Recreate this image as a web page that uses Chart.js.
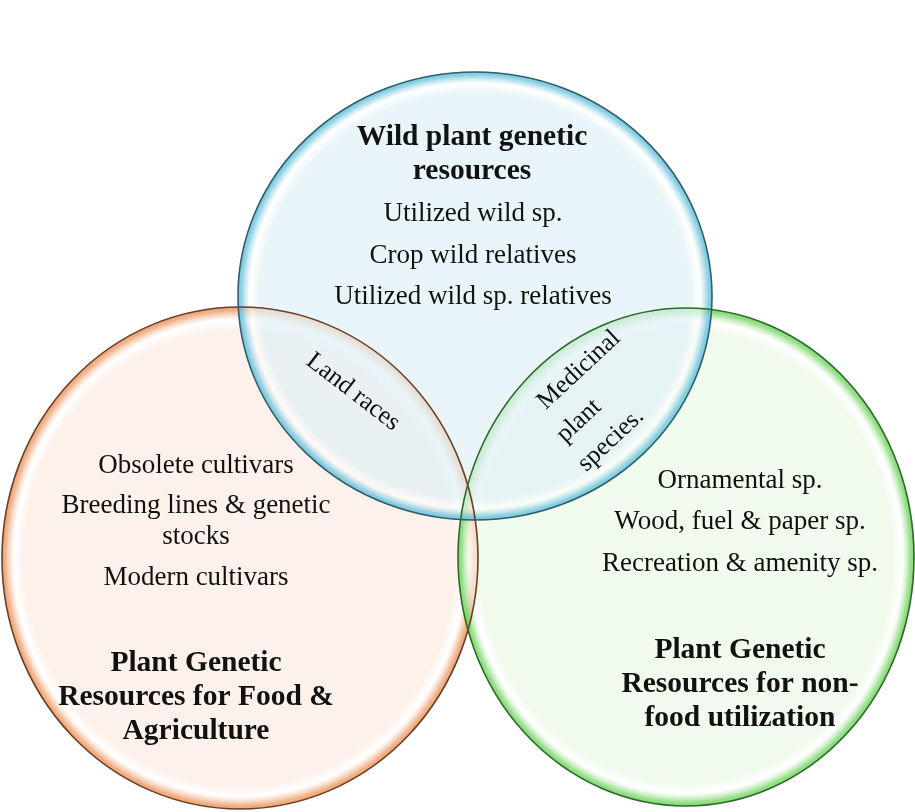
<!DOCTYPE html>
<html>
<head>
<meta charset="utf-8">
<script src="https://cdn.jsdelivr.net/npm/chart.js@4"></script>
<style>
  html, body { margin: 0; padding: 0; background: #ffffff; }
  #venn { display: block; }
</style>
</head>
<body>
<canvas id="venn" width="915" height="812"></canvas>
<script>
// Venn - tres conjuntos de recursos fitogenéticos
const setNames = ["Wild plant genetic resources", "Plant Genetic Resources for Food & Agriculture", "Plant Genetic Resources for non-food utilization"];
const centerX = [475, 240, 686];
const centerY = [296, 558, 557];
const radiusX = [237, 238, 228];
const radiusY = [224, 251, 249];

const titleLines = [
  ["Wild plant genetic", "resources"],
  ["Plant Genetic", "Resources for Food &", "Agriculture"],
  ["Plant Genetic", "Resources for non-", "food utilization"],
];
const itemLines = [
  ["Utilized wild sp.", "Crop wild relatives", "Utilized wild sp. relatives"],
  ["Obsolete cultivars", "Breeding lines & genetic", "stocks", "Modern cultivars"],
  ["Ornamental sp.", "Wood, fuel & paper sp.", "Recreation & amenity sp."],
];
const overlapLines = [
  ["Land races"],
  ["Medicinal", "plant", "species."],
];

// estilo y posiciones de texto (coordenadas de la escala)
const styles = [
  { base: "226,241,246", rim: "110,195,220", stroke: "#2f5f6e" },
  { base: "252,236,228", rim: "236,156,104", stroke: "#6b4026" },
  { base: "236,249,232", rim: "120,214,104", stroke: "#2c6a2a" },
];
const titlePos = [
  { x: 472, y: 137, dy: 34 },
  { x: 196, y: 663, dy: 34 },
  { x: 740, y: 650, dy: 34 },
];
const itemPos = [
  { x: 473, ys: [214, 256, 297] },
  { x: 196, ys: [466, 506, 537, 578] },
  { x: 740, ys: [481, 522, 564] },
];
const overlapPos = [
  [{ x: 353, y: 392, a: 37.6 }],
  [{ x: 579, y: 370, a: -43 }, { x: 579, y: 421, a: -43 }, { x: 611, y: 440, a: -43 }],
];

function ellipseOf(chart, i) {
  const xs = chart.scales.x;
  const ys = chart.scales.y;
  const cx = xs.getPixelForValue(centerX[i]);
  const cy = ys.getPixelForValue(centerY[i]);
  const rx = Math.abs(xs.getPixelForValue(centerX[i] + radiusX[i]) - cx);
  const ry = Math.abs(ys.getPixelForValue(centerY[i] + radiusY[i]) - cy);
  return { cx, cy, rx, ry };
}

const vennPlugin = {
  id: "venn",
  beforeDatasetsDraw(chart) {
    const ctx = chart.ctx;
    const order = [1, 2, 0];
    // rellenos
    order.forEach((i) => {
      const e = ellipseOf(chart, i);
      const s = styles[i];
      ctx.save();
      ctx.translate(e.cx, e.cy);
      ctx.scale(1, e.ry / e.rx);
      const g = ctx.createRadialGradient(0, 0, 0, 0, 0, e.rx);
      g.addColorStop(0, `rgba(${s.base},0.75)`);
      g.addColorStop(0.91, `rgba(${s.base},0.75)`);
      g.addColorStop(0.95, `rgba(255,255,255,0.55)`);
      g.addColorStop(0.985, `rgba(${s.rim},0.75)`);
      g.addColorStop(1, `rgba(${s.rim},0.95)`);
      ctx.beginPath();
      ctx.arc(0, 0, e.rx, 0, Math.PI * 2);
      ctx.fillStyle = g;
      ctx.fill();
      ctx.restore();
    });
    // bordes
    order.forEach((i) => {
      const e = ellipseOf(chart, i);
      ctx.save();
      ctx.beginPath();
      ctx.ellipse(e.cx, e.cy, e.rx, e.ry, 0, 0, Math.PI * 2);
      ctx.lineWidth = 1.6;
      ctx.strokeStyle = styles[i].stroke;
      ctx.stroke();
      ctx.restore();
    });
  },
  afterDatasetsDraw(chart) {
    const ctx = chart.ctx;
    const xs = chart.scales.x;
    const ys = chart.scales.y;
    ctx.save();
    ctx.fillStyle = "#111111";
    ctx.textAlign = "center";
    ctx.textBaseline = "middle";

    ctx.font = "bold 29.5px 'Liberation Serif', 'Times New Roman', serif";
    titleLines.forEach((lines, i) => {
      lines.forEach((t, j) => {
        ctx.fillText(t, xs.getPixelForValue(titlePos[i].x), ys.getPixelForValue(titlePos[i].y + j * titlePos[i].dy));
      });
    });

    ctx.font = "27px 'Liberation Serif', 'Times New Roman', serif";
    itemLines.forEach((lines, i) => {
      lines.forEach((t, j) => {
        ctx.fillText(t, xs.getPixelForValue(itemPos[i].x), ys.getPixelForValue(itemPos[i].ys[j]));
      });
    });

    ctx.font = "25.5px 'Liberation Serif', 'Times New Roman', serif";
    overlapLines.forEach((lines, i) => {
      lines.forEach((t, j) => {
        const p = overlapPos[i][j];
        ctx.save();
        ctx.translate(xs.getPixelForValue(p.x), ys.getPixelForValue(p.y));
        ctx.rotate((p.a * Math.PI) / 180);
        ctx.fillText(t, 0, 0);
        ctx.restore();
      });
    });
    ctx.restore();
  },
};

new Chart(document.getElementById("venn").getContext("2d"), {
  type: "scatter",
  data: {
    datasets: setNames.map((name, i) => ({
      label: name,
      data: [{ x: centerX[i], y: centerY[i] }],
      pointRadius: 0,
      pointHoverRadius: 0,
    })),
  },
  options: {
    responsive: false,
    animation: false,
    layout: { padding: 0 },
    plugins: { legend: { display: false }, tooltip: { enabled: false } },
    scales: {
      x: { type: "linear", min: 0, max: 915, display: false },
      y: { type: "linear", min: 0, max: 812, reverse: true, display: false },
    },
  },
  plugins: [vennPlugin],
});
</script>
</body>
</html>
